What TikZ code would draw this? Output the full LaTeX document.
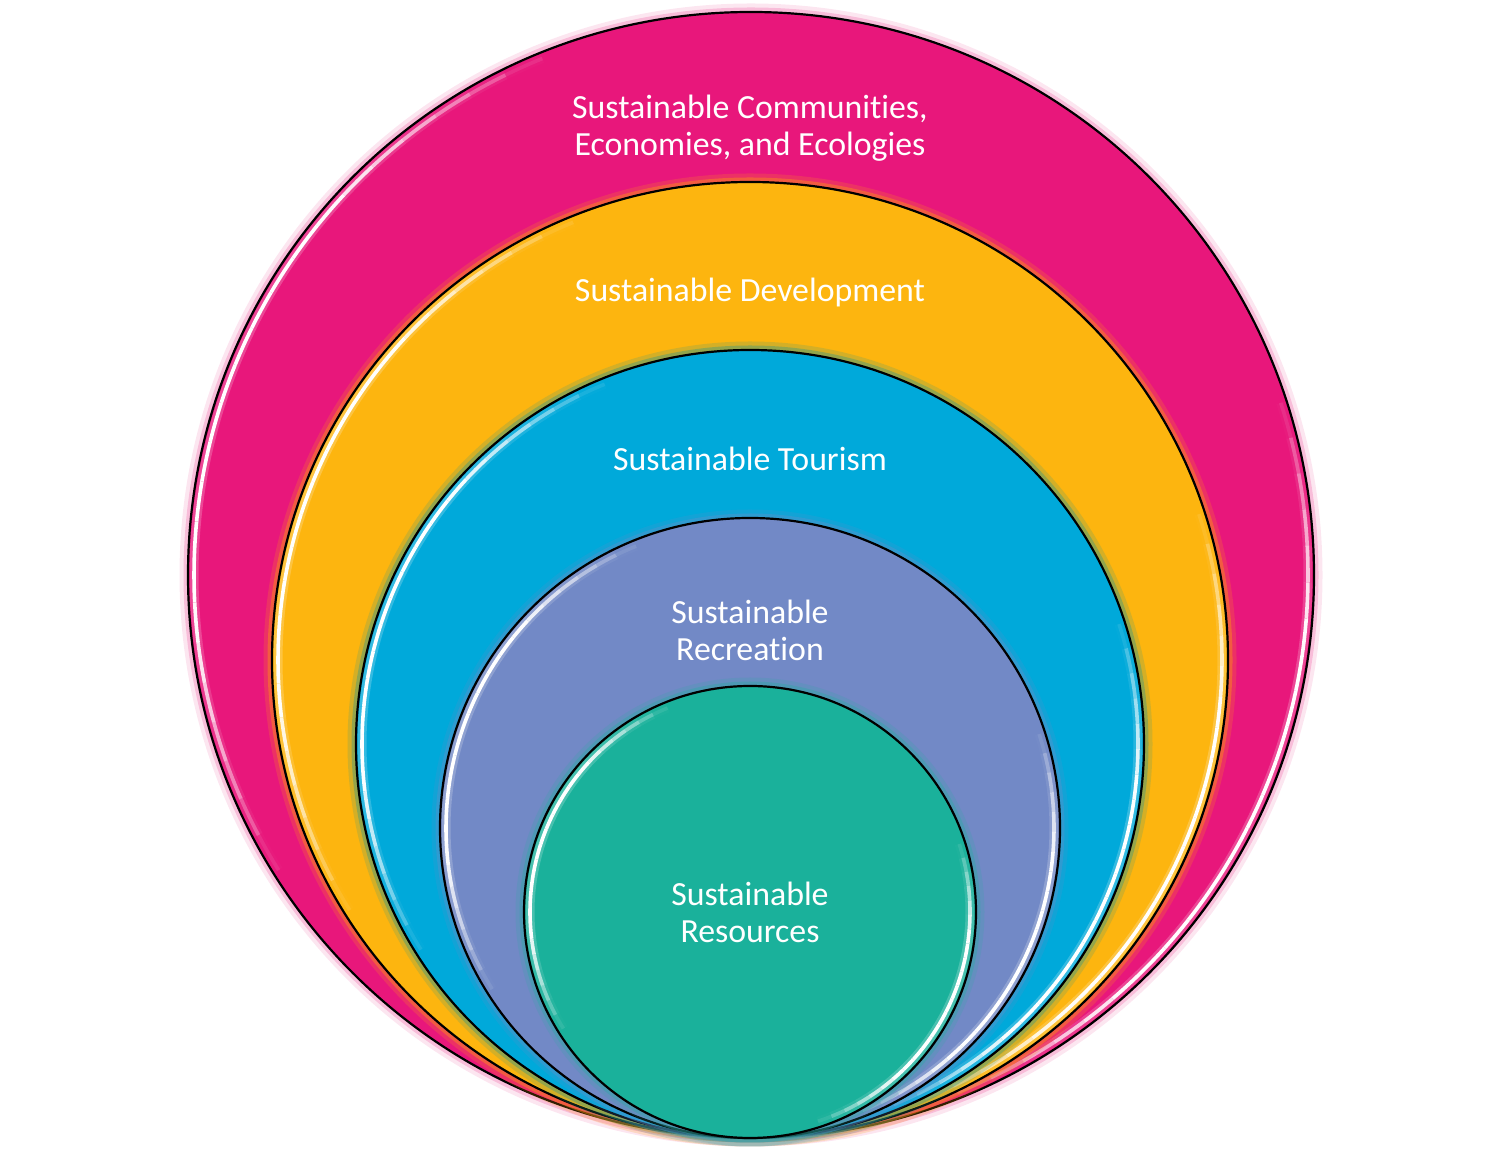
\documentclass[tikz,border=0pt]{standalone}
\usepackage{fontspec}
\setmainfont{Carlito}[Ligatures=NoCommon]
\definecolor{cmag}{HTML}{E8177B}
\definecolor{corg}{HTML}{FDB50F}
\definecolor{cblu}{HTML}{00A9DA}
\definecolor{cpur}{HTML}{7289C6}
\definecolor{cgrn}{HTML}{1AB19B}
% faded highlight arc: #1 centre name, #2 radius, #3 start, #4 end, #5 colour
\newcommand\hlarc[5]{%
  \foreach \i in {0,...,23}{%
    \pgfmathsetmacro\aa{#3+(#4-#3)*\i/24}%
    \pgfmathsetmacro\ab{#3+(#4-#3)*(\i+1)/24}%
    \pgfmathsetmacro\op{min(1,1.3*sin(180*(\i+0.5)/24))}%
    \draw[#5, line width=4.5, opacity=0.35*\op]
      ([shift={(\aa:#2)}]#1) arc[start angle=\aa, end angle=\ab, radius=#2];
    \draw[white, line width=1.8, opacity=\op]
      ([shift={(\aa:#2)}]#1) arc[start angle=\aa, end angle=\ab, radius=#2];
  }%
}
\newcommand\drawlayer[5]{%
  % #1 name, #2 center, #3 radius, #4 colour, #5 glow colour
  \coordinate (#1) at #2;
  \draw[#5, line width=6, opacity=0.2] (#1) circle[radius=#3+2.5];
  \draw[#5, line width=3, opacity=0.4] (#1) circle[radius=#3+1.5];
  \fill[#4] (#1) circle[radius=#3];
  \pgfmathsetmacro\rr{#3-6}%
  \hlarc{#1}{\rr}{112}{212}{#4!40!white}
  \hlarc{#1}{\rr}{-72}{18}{#4!40!white}
  \draw[black, line width=1.1] (#1) circle[radius=#3];
}
\tikzset{lbl/.style={text=white, align=center, font=\fontsize{16.9pt}{18.4pt}\selectfont, inner sep=0}}
\begin{document}
\begin{tikzpicture}[x=0.5pt,y=0.5pt]
\useasboundingbox (0,0) rectangle (1500,1151);
\drawlayer{cA}{(751,576)}{563}{cmag}{cmag!55!white}
\drawlayer{cB}{(750,491)}{478}{corg}{corg!85!red}
\drawlayer{cC}{(750,407)}{394}{cblu}{cblu!60!olive}
\drawlayer{cD}{(750,323)}{310}{cpur}{cpur!80!cblu}
\drawlayer{cE}{(750,239)}{226}{cgrn}{cgrn!80!cpur}
\node[lbl] (tA) at (750,1023) {Sustainable Communities,\\Economies, and Ecologies};
\node[lbl] (tB) at (750,858) {Sustainable Development};
\node[lbl] (tC) at (750,692) {Sustainable Tourism};
\node[lbl] (tD) at (750,521) {Sustainable\\Recreation};
\node[lbl] (tE) at (750,239) {Sustainable\\Resources};
\end{tikzpicture}
\end{document}
